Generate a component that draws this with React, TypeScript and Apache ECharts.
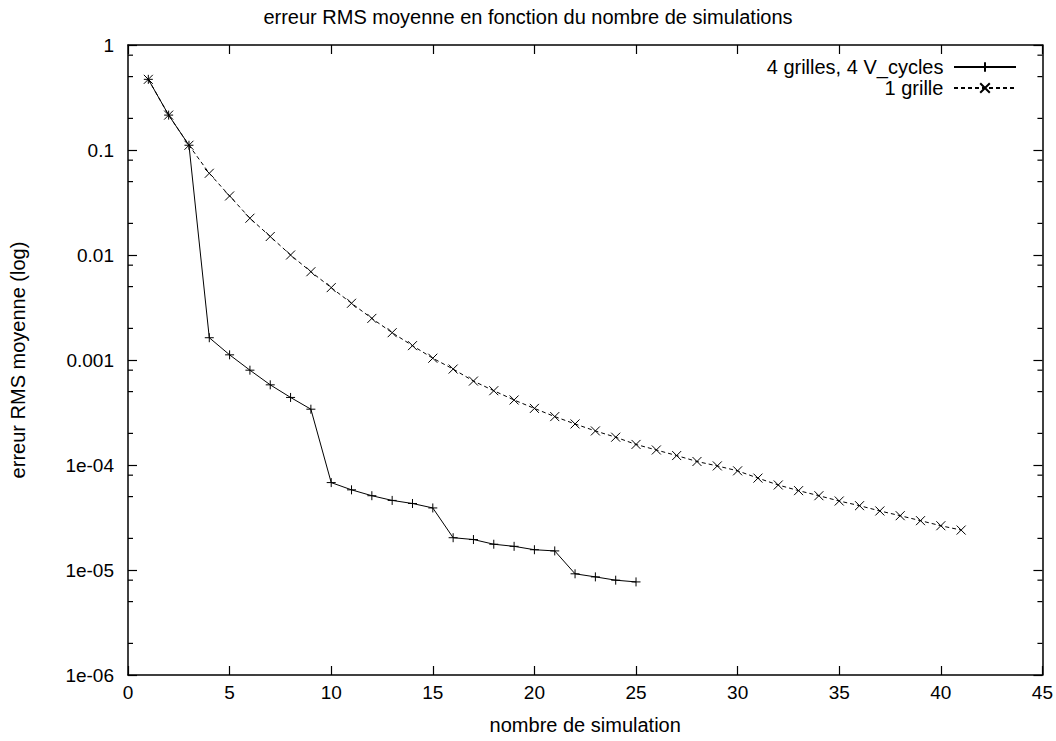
import React, { useEffect, useRef } from "react";
import * as echarts from "echarts";

const titleText = "erreur RMS moyenne en fonction du nombre de simulations";
const xAxisName = "nombre de simulation";
const yAxisName = "erreur RMS moyenne (log)";

const series1Name = "4 grilles, 4 V_cycles";
const series1X = [1, 2, 3, 4, 5, 6, 7, 8, 9, 10, 11, 12, 13, 14, 15, 16, 17, 18, 19, 20, 21, 22, 23, 24, 25];
const series1Y = [
  0.471, 0.215, 0.111, 1.63e-3, 1.12e-3, 8.0e-4, 5.8e-4, 4.4e-4, 3.4e-4, 6.8e-5, 5.8e-5, 5.1e-5, 4.6e-5,
  4.3e-5, 3.9e-5, 2.03e-5, 1.95e-5, 1.76e-5, 1.68e-5, 1.56e-5, 1.52e-5, 9.2e-6, 8.6e-6, 8.0e-6, 7.7e-6,
];

const series2Name = "1 grille";
const series2X = [
  1, 2, 3, 4, 5, 6, 7, 8, 9, 10, 11, 12, 13, 14, 15, 16, 17, 18, 19, 20, 21, 22, 23, 24, 25, 26, 27, 28, 29,
  30, 31, 32, 33, 34, 35, 36, 37, 38, 39, 40, 41,
];
const series2Y = [
  0.471, 0.215, 0.111, 0.06, 0.0365, 0.0224, 0.015, 0.01, 0.00693, 0.00489, 0.00347, 0.00249, 0.00182,
  0.00137, 0.00104, 8.2e-4, 6.3e-4, 5.1e-4, 4.16e-4, 3.46e-4, 2.89e-4, 2.46e-4, 2.11e-4, 1.84e-4, 1.57e-4,
  1.39e-4, 1.23e-4, 1.08e-4, 9.8e-5, 8.8e-5, 7.5e-5, 6.45e-5, 5.7e-5, 5.1e-5, 4.54e-5, 4.1e-5, 3.65e-5,
  3.29e-5, 2.95e-5, 2.64e-5, 2.4e-5,
];

const yTickLabels = ["1e-06", "1e-05", "1e-04", "0.001", "0.01", "0.1", "1"];
const yMinorTicks = [
  2e-6, 5e-6, 8e-6, 2e-5, 5e-5, 8e-5, 2e-4, 5e-4, 8e-4, 2e-3, 5e-3, 8e-3, 0.02, 0.05, 0.08, 0.2, 0.5, 0.8,
];

const X_MIN = 0;
const X_MAX = 45;
const FONT = "'Liberation Sans', Arial, sans-serif";
const FS = 19;

const plusSymbol = "path://M0,5L10,5M5,0L5,10";
const crossSymbol = "path://M0,0L10,10M10,0L0,10";

export default function App() {
  const ref = useRef<HTMLDivElement>(null);
  useEffect(() => {
    if (!ref.current) return;
    const chart = echarts.init(ref.current, undefined, { renderer: "svg" });
    const axisLine = { show: true, onZero: false, lineStyle: { color: "#000", width: 1.5 } };
    const tick = { show: true, inside: true, length: 9, lineStyle: { color: "#000", width: 1.2 } };
    const yAxisCommon = {
      type: "log" as const,
      logBase: 10,
      min: 1e-6,
      max: 1,
      splitNumber: 6,
      axisLine,
      splitLine: { show: false },
      axisTick: tick,
    };
    const xAxisCommon = {
      type: "value" as const,
      min: X_MIN,
      max: X_MAX,
      interval: 5,
      axisLine,
      splitLine: { show: false },
      axisTick: tick,
    };
    chart.setOption({
      animation: false,
      backgroundColor: "#fff",
      textStyle: { fontFamily: FONT },
      title: {
        text: titleText,
        left: "center",
        top: 2,
        textStyle: { fontFamily: FONT, fontSize: 20, fontWeight: "normal", color: "#000" },
      },
      grid: { left: 128, right: 13, top: 45, bottom: 66, containLabel: false },
      legend: {
        data: [series1Name, series2Name],
        orient: "vertical",
        align: "right",
        right: 34,
        top: 52,
        itemGap: 1,
        itemWidth: 62,
        itemHeight: 12,
        formatter: (n: string) => n + " ",
        textStyle: { fontFamily: FONT, fontSize: 20, color: "#000" },
      },
      xAxis: [
        {
          ...xAxisCommon,
          position: "bottom",
          name: xAxisName,
          nameLocation: "middle",
          nameGap: 40,
          nameTextStyle: { fontFamily: FONT, fontSize: 20, color: "#000" },
          axisLabel: { color: "#000", fontSize: FS, fontFamily: FONT, margin: 8 },
        },
        {
          ...xAxisCommon,
          position: "top",
          axisLabel: { show: false },
        },
      ],
      yAxis: [
        {
          ...yAxisCommon,
          position: "left",
          name: yAxisName,
          nameLocation: "middle",
          nameGap: 100,
          nameTextStyle: { fontFamily: FONT, fontSize: 20, color: "#000" },
          axisLabel: {
            color: "#000",
            fontSize: FS,
            fontFamily: FONT,
            margin: 14,
            formatter: (v: number) => yTickLabels[Math.round(Math.log10(v)) + 6],
          },
        },
        {
          ...yAxisCommon,
          position: "right",
          axisLabel: { show: false },
        },
      ],
      series: [
        {
          name: series1Name,
          type: "line",
          data: series1X.map((x, i) => [x, series1Y[i]]),
          symbol: plusSymbol,
          symbolSize: 9,
          showAllSymbol: true,
          lineStyle: { color: "#000", width: 1 },
          itemStyle: { color: "#000", borderColor: "#000", borderWidth: 1 },
          z: 3,
        },
        {
          name: series2Name,
          type: "line",
          data: series2X.map((x, i) => [x, series2Y[i]]),
          symbol: crossSymbol,
          symbolSize: 9,
          showAllSymbol: true,
          lineStyle: { color: "#000", width: 1, type: [4, 3] },
          itemStyle: { color: "#000", borderColor: "#000", borderWidth: 1 },
          z: 2,
        },
        {
          name: "minorTicks",
          type: "custom",
          silent: true,
          clip: false,
          data: yMinorTicks.map((v) => [X_MIN, v]),
          encode: { x: 0, y: 1 },
          renderItem: (_params: any, api: any) => {
            const v = api.value(1);
            const l = api.coord([X_MIN, v]);
            const r = api.coord([X_MAX, v]);
            const st = { stroke: "#000", lineWidth: 1.2 };
            return {
              type: "group",
              children: [
                { type: "line", shape: { x1: l[0], y1: l[1], x2: l[0] + 5, y2: l[1] }, style: st },
                { type: "line", shape: { x1: r[0] - 5, y1: r[1], x2: r[0], y2: r[1] }, style: st },
              ],
            };
          },
        },
      ],
    });
    return () => chart.dispose();
  }, []);
  return (
    <div
      ref={ref}
      style={{ position: "absolute", left: 0, top: 0, width: 1056, height: 741, background: "#fff" }}
    />
  );
}
